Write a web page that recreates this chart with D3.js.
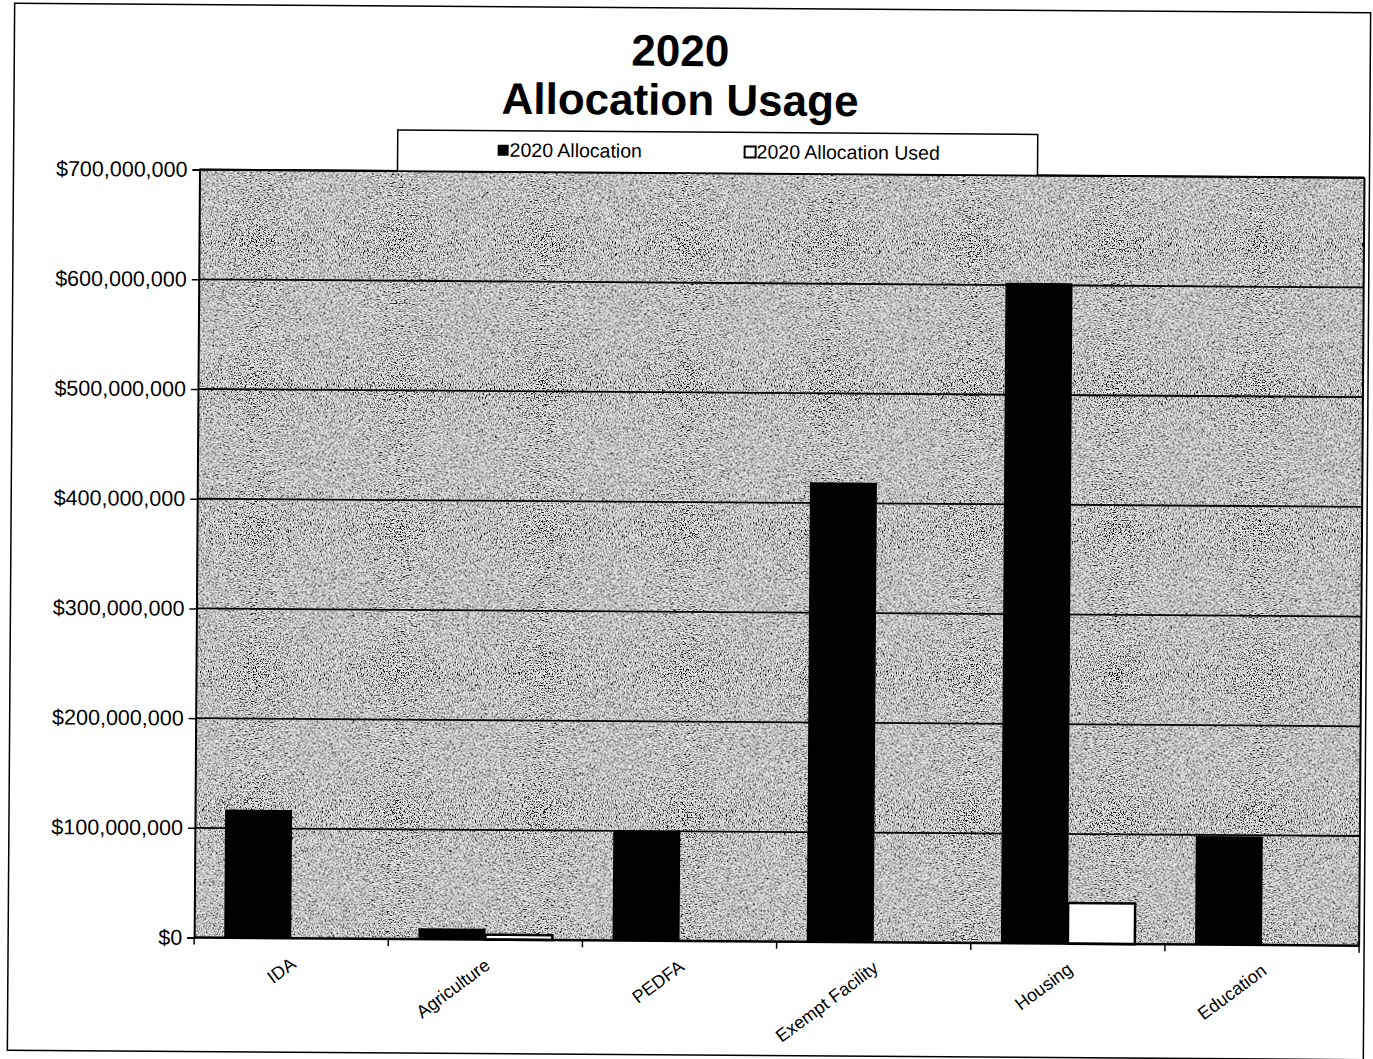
<!DOCTYPE html>
<html>
<head>
<meta charset="utf-8">
<script src="https://cdn.jsdelivr.net/npm/d3@7/dist/d3.min.js"></script>
<style>
  html, body { margin: 0; padding: 0; background: #fff; }
  svg { display: block; }
  text { font-family: "Liberation Sans", Arial, sans-serif; fill: #000; }
</style>
</head>
<body>
<svg id="chart" width="1373" height="1059"></svg>
<script>
// ---- data ----
const categories = ["IDA", "Agriculture", "PEDFA", "Exempt Facility", "Housing", "Education"];
const seriesNames = ["2020 Allocation", "2020 Allocation Used"];
const allocation = [117e6, 10e6, 100e6, 419e6, 602e6, 99e6];
const allocationUsed = [0, 4.5e6, 0, 0, 37e6, 0];
const yTicks = [0, 100e6, 200e6, 300e6, 400e6, 500e6, 600e6, 700e6];
const titleLines = ["2020", "Allocation Usage"];

const svg = d3.select("#chart");

const defs = svg.append("defs");
const f = defs.append("filter").attr("id", "stip")
  .attr("x", 0).attr("y", 0).attr("width", 1).attr("height", 1)
  .attr("filterUnits", "objectBoundingBox");
f.append("feTurbulence").attr("type", "fractalNoise").attr("baseFrequency", "0.75")
  .attr("numOctaves", 2).attr("seed", 7).attr("result", "n");
f.append("feColorMatrix").attr("in", "n").attr("type", "matrix")
  .attr("values", "0 0 0 0 0  0 0 0 0 0  0 0 0 0 0  1 0 0 0 0").attr("result", "a");
const ct = f.append("feComponentTransfer").attr("in", "a").attr("result", "d");
ct.append("feFuncA").attr("type", "discrete").attr("tableValues", "0 0 0 0.1 0.3 0.55 1 1 1 1");
f.append("feFlood").attr("flood-color", "#ffffff").attr("result", "w");
f.append("feComposite").attr("in", "d").attr("in2", "w").attr("operator", "over");

// whole scanned page slightly tilted
const g = svg.append("g").attr("transform", "rotate(0.4, 686, 530)");

// page frame
g.append("rect").attr("x", 11).attr("y", 8).attr("width", 1356).attr("height", 1047)
  .attr("fill", "none").attr("stroke", "#000").attr("stroke-width", 1.5);

// plot geometry
const pLeft = 197, pRight = 1362, pTop = 173, pBottom = 941;

const y = d3.scaleLinear().domain([0, 700e6]).range([pBottom, pTop]);
const x0 = d3.scaleBand().domain(categories).range([pLeft, pRight])
  .paddingInner(0.31).paddingOuter(0.155);
const x1 = d3.scaleBand().domain(seriesNames).range([0, x0.bandwidth()]);

// plot background (stippled)
g.append("rect").attr("x", pLeft).attr("y", pTop).attr("width", pRight - pLeft).attr("height", pBottom - pTop)
  .attr("fill", "#000").attr("filter", "url(#stip)");

// gridlines
g.append("g").selectAll("line").data(yTicks.filter(d => d > 0)).join("line")
  .attr("x1", pLeft).attr("x2", pRight)
  .attr("y1", d => y(d)).attr("y2", d => y(d))
  .attr("stroke", "#000").attr("stroke-width", 1.8);

// y axis
const yAxis = d3.axisLeft(y).tickValues(yTicks).tickSize(7).tickPadding(5)
  .tickFormat(d => "$" + d3.format(",")(d));
const ya = g.append("g").attr("transform", `translate(${pLeft},0)`).call(yAxis);
ya.select(".domain").attr("stroke", "#000").attr("stroke-width", 2);
ya.selectAll(".tick line").attr("stroke", "#000").attr("stroke-width", 1.5);
ya.selectAll(".tick text").style("font-size", "21.5px").attr("fill", "#000");

// top and right border
g.append("line").attr("x1", pLeft).attr("x2", pRight).attr("y1", pTop).attr("y2", pTop)
  .attr("stroke", "#000").attr("stroke-width", 2);
g.append("line").attr("x1", pRight).attr("x2", pRight).attr("y1", pTop).attr("y2", pBottom)
  .attr("stroke", "#000").attr("stroke-width", 2);

// bars
const rows = categories.map((c, i) => ({ cat: c, vals: [allocation[i], allocationUsed[i]] }));
const groups = g.append("g").selectAll("g").data(rows).join("g")
  .attr("transform", d => `translate(${x0(d.cat)},0)`);
groups.selectAll("rect").data(d => d.vals.map((v, j) => ({ s: seriesNames[j], v, j })).filter(e => e.v > 0))
  .join("rect")
  .attr("x", e => x1(e.s))
  .attr("width", x1.bandwidth())
  .attr("y", e => y(e.v))
  .attr("height", e => y(0) - y(e.v))
  .attr("fill", e => e.j === 0 ? "#000" : "#fff")
  .attr("stroke", "#000")
  .attr("stroke-width", e => e.j === 0 ? 0 : 2.5);

// x axis line with ticks at category boundaries
const step = x0.step();
const xa = g.append("g");
xa.append("line").attr("x1", pLeft).attr("x2", pRight).attr("y1", pBottom).attr("y2", pBottom)
  .attr("stroke", "#000").attr("stroke-width", 2.5);
xa.selectAll("line.tk").data(d3.range(categories.length + 1)).join("line")
  .attr("class", "tk")
  .attr("x1", i => pLeft + i * step).attr("x2", i => pLeft + i * step)
  .attr("y1", pBottom).attr("y2", pBottom + 7)
  .attr("stroke", "#000").attr("stroke-width", 1.5);
xa.selectAll("text").data(categories).join("text")
  .attr("transform", c => `translate(${x0(c) + x0.bandwidth() / 2 + 6},${pBottom + 28}) rotate(-37)`)
  .attr("text-anchor", "end")
  .style("font-size", "18px")
  .text(c => c);

// title
g.append("g").selectAll("text").data(titleLines).join("text")
  .attr("x", 677).attr("y", (d, i) => 66 + i * 49)
  .attr("text-anchor", "middle")
  .style("font-size", "44px").style("font-weight", "bold")
  .text(d => d);

// legend
const lg = g.append("g");
lg.append("rect").attr("x", 395).attr("y", 132).attr("width", 640).attr("height", pTop - 132)
  .attr("fill", "#fff").attr("stroke", "#000").attr("stroke-width", 1.5);
const legendX = [495, 742];
const li = lg.selectAll("g").data(seriesNames).join("g")
  .attr("transform", (d, i) => `translate(${legendX[i]},0)`);
li.append("rect").attr("x", 0).attr("y", 146).attr("width", 11).attr("height", 11)
  .attr("fill", (d, i) => i === 0 ? "#000" : "#fff")
  .attr("stroke", "#000").attr("stroke-width", (d, i) => i === 0 ? 0 : 2);
li.append("text").attr("x", 12).attr("y", 158).style("font-size", "19.5px").text(d => d);
</script>
</body>
</html>
